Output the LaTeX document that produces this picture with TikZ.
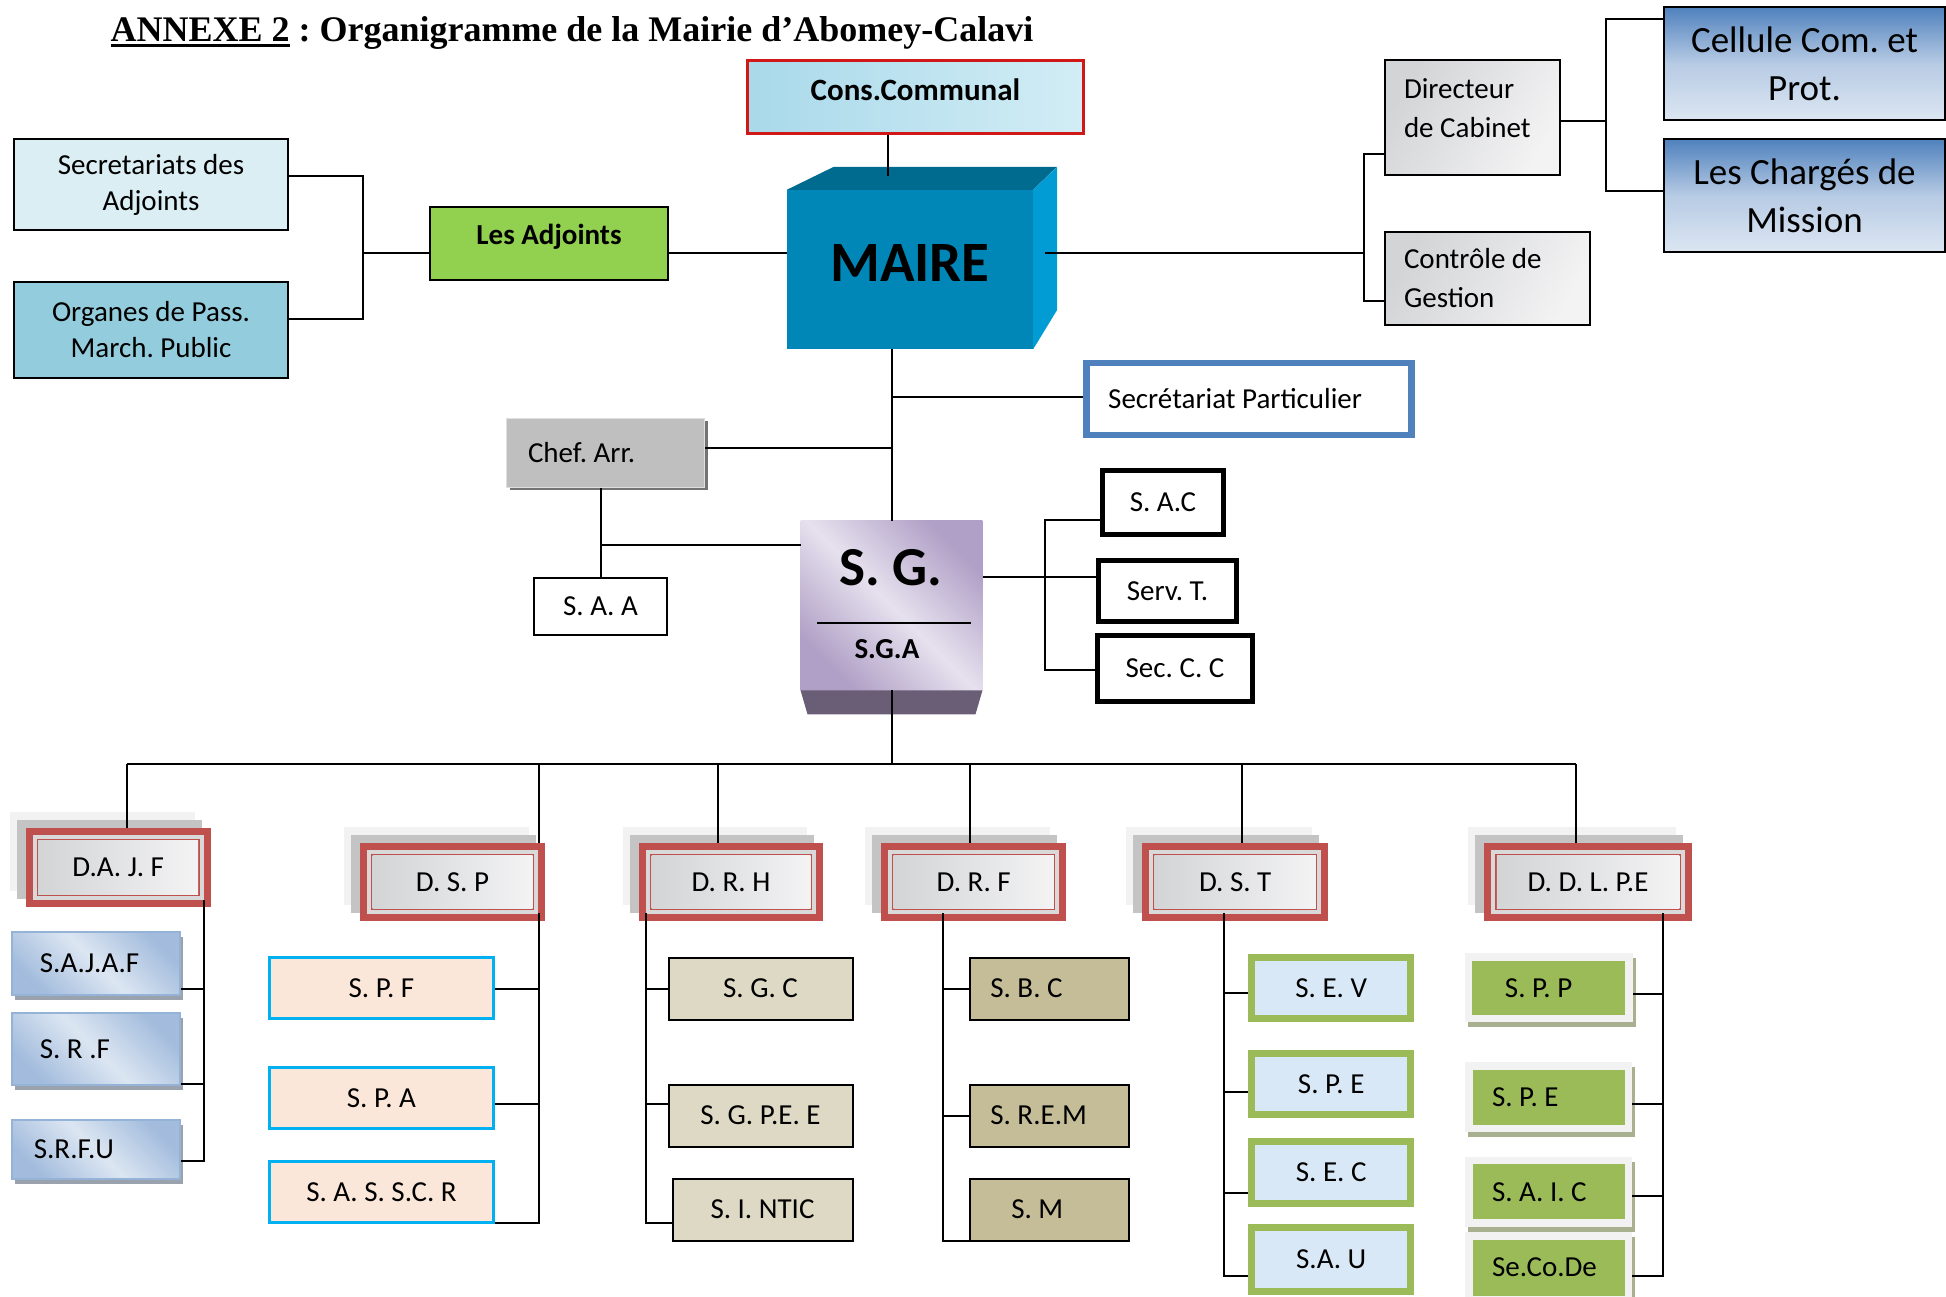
\documentclass[tikz,border=0pt]{standalone}
\usepackage{fontspec}
\setmainfont{Carlito}
\newfontfamily\titlefont{Liberation Serif}
\usepackage{tikz}
\usetikzlibrary{shadows}

\definecolor{consred}{HTML}{D01818}
\definecolor{aqualo}{HTML}{A9D9EA}
\definecolor{aquahi}{HTML}{D2EDF5}
\definecolor{maireface}{HTML}{0087B8}
\definecolor{mairetop}{HTML}{006A8F}
\definecolor{maireside}{HTML}{009CD3}
\definecolor{secblue}{HTML}{DBEEF4}
\definecolor{orgblue}{HTML}{93CDDD}
\definecolor{adjgreen}{HTML}{92D050}
\definecolor{marblelo}{HTML}{D3D4D6}
\definecolor{marblehi}{HTML}{F3F3F4}
\definecolor{celldark}{HTML}{4F81BD}
\definecolor{cellmid}{HTML}{B7CBE4}
\definecolor{celllight}{HTML}{DCE6F2}
\definecolor{partblue}{HTML}{4F81BD}
\definecolor{chefgray}{HTML}{BFBFBF}
\definecolor{sglight}{HTML}{E6E1EE}
\definecolor{sgdark}{HTML}{B09FC6}
\definecolor{sgfoot}{HTML}{695E76}
\definecolor{dirred}{HTML}{C0504D}
\definecolor{dirframe}{HTML}{D9D9D9}
\definecolor{shadlight}{HTML}{F2F2F2}
\definecolor{shadgray}{HTML}{C4C4C4}
\definecolor{svblue}{HTML}{A3BCDD}
\definecolor{svbluehi}{HTML}{DCE6F2}
\definecolor{svedge}{HTML}{95B3D7}
\definecolor{svshadow}{HTML}{9AA2AE}
\definecolor{peach}{HTML}{FBE7D9}
\definecolor{cyanedge}{HTML}{00B0F0}
\definecolor{khakilt}{HTML}{DDD9C4}
\definecolor{khaki}{HTML}{C4BD97}
\definecolor{olive}{HTML}{9BBB59}
\definecolor{icelt}{HTML}{D9E8F6}
\definecolor{greenshadow}{HTML}{A8B08F}

\newcommand{\ulbold}[1]{\setbox0=\hbox{#1}\rlap{\rule[-5pt]{\wd0}{2.5pt}}#1}
\newcommand{\insetrect}[2]{\path[#1] ([shift={(#2pt,-#2pt)}]path picture bounding box.north west) rectangle ([shift={(-#2pt,#2pt)}]path picture bounding box.south east);}

\tikzset{wh/.style 2 args={minimum width=#1pt,minimum height=#2pt},
         lft/.style 2 args={align=flush left,text width=#1pt,inner xsep=#2pt}}
\tikzstyle{box}=[rectangle,inner sep=0pt,font=\fontsize{29}{36}\selectfont]
\tikzstyle{conn}=[line width=2pt]
\tikzstyle{plainbox}=[box,draw=black,line width=2.5pt]
\tikzstyle{consbox}=[box,draw=consred,line width=3pt,left color=aqualo,right color=aquahi,font=\fontsize{31}{36}\selectfont\bfseries]
\tikzstyle{mairebox}=[box,fill=maireface,font=\fontsize{57}{60}\selectfont\bfseries]
\tikzstyle{adjbox}=[plainbox,fill=adjgreen,font=\fontsize{29}{36}\selectfont\bfseries]
\tikzstyle{marblebox}=[plainbox,left color=marblelo,right color=marblehi,shading angle=60,font=\fontsize{29}{39}\selectfont]
\tikzstyle{cellbox}=[plainbox,top color=celldark,bottom color=celllight,middle color=cellmid,align=center,font=\fontsize{37}{48}\selectfont]
\tikzstyle{partbox}=[box,draw=partblue,line width=6.5pt,fill=white]
\tikzstyle{chefbox}=[box,fill=chefgray,draw=gray!25,line width=1pt,drop shadow={shadow xshift=3pt,shadow yshift=-3pt,fill=gray!90!black,opacity=1}]
\tikzstyle{sgbox}=[box,top color=sgdark,bottom color=sgdark,middle color=sglight,shading angle=-45]
\tikzstyle{thickbox}=[box,draw=black,line width=5pt,fill=white]
\tikzstyle{dirbox}=[box,fill=dirred,
  general shadow={fill=shadlight,shadow xshift=-16pt,shadow yshift=16pt},
  general shadow={fill=shadgray,shadow xshift=-9pt,shadow yshift=8pt},
  path picture={\insetrect{fill=dirframe}{7}\insetrect{fill=dirred}{11}\insetrect{left color=marblelo,right color=marblehi}{12.5}}]
\tikzstyle{svbox}=[box,draw=svedge,line width=2pt,top color=svblue,bottom color=svblue,middle color=svbluehi,shading angle=-45,
  general shadow={fill=svshadow,shadow xshift=3pt,shadow yshift=-5pt}]
\tikzstyle{pfbox}=[box,draw=cyanedge,line width=2.5pt,fill=peach]
\tikzstyle{hrbox}=[box,draw=black,line width=2pt,fill=khakilt]
\tikzstyle{finbox}=[box,draw=black,line width=2pt,fill=khaki]
\tikzstyle{stbox}=[box,draw=olive,line width=7pt,fill=icelt]
\tikzstyle{dlbox}=[box,fill=shadlight,general shadow={fill=greenshadow,shadow xshift=3pt,shadow yshift=-5pt},
  path picture={\insetrect{fill=olive}{7.5}}]

\begin{document}
\frenchspacing
\begin{tikzpicture}[x=1pt,y=-1pt]
\useasboundingbox (0,0) rectangle (1946,1297);
\node at ( 107, 42) [anchor=base west,font=\titlefont\fontsize{36}{40}\selectfont\bfseries] (title) {\ulbold{ANNEXE 2} : Organigramme de la Mairie d’Abomey-Calavi};

\node at ( 915.5, 97) [consbox,wh={336}{73},text depth=14pt] (cons) {Cons.Communal};
\node at ( 910, 269.5) [mairebox,wh={246}{159},text depth=13pt] (maire) {MAIRE};
\fill[mairetop] (maire.north west) -- ++(47,-23) -- ++(223,0) -- (maire.north east) -- cycle;
\fill[maireside] (maire.north east) -- ++(24,-23) -- ++(0,143) -- (maire.south east) -- cycle;

\node at ( 151, 184.5) [plainbox,fill=secblue,wh={274}{91},align=center] (secadj) {Secretariats des\\Adjoints};
\node at ( 151, 330) [plainbox,fill=orgblue,wh={274}{96},align=center] (organes) {Organes de Pass.\\March. Public};
\node at ( 549, 243.5) [adjbox,wh={238}{73},text depth=18pt] (adjoints) {Les Adjoints};

\node at (1472.5, 117.5) [marblebox,wh={175}{115},lft={137}{19},text depth=57pt] (dircab) {Directeur\\de Cabinet};
\node at (1487.5, 278.5) [marblebox,wh={205}{93},lft={167}{19}] (controle) {Contrôle de\\Gestion};
\node at (1804.5, 63.5) [cellbox,wh={281}{113}] (cellule) {Cellule Com. et\\Prot.};
\node at (1804.5, 195.5) [cellbox,wh={281}{113}] (charges) {Les Chargés de\\Mission};

\node at (1249, 399) [partbox,wh={325}{72},lft={281.6}{21.7}] (secpart) {Secrétariat Particulier};
\node at ( 605.5, 452.5) [chefbox,wh={198}{69},lft={155}{21.5}] (chef) {Chef. Arr.};
\node at ( 600.5, 606.5) [plainbox,line width=2pt,wh={133}{57}] (saa) {S. A. A};

\node at ( 891.5, 605.4) [sgbox,wh={181.6}{169.3}] (sg) {};
\fill[sgfoot] (sg.south west) -- (sg.south east) -- ++(-7,24) -- ++(-168,0) -- cycle;
\node at ( 891, 568) [font=\fontsize{55}{60}\selectfont\bfseries] (sgname) {S. G.};
\draw[line width=2pt] (817,623) -- (971,623);
\node at ( 887, 649) [font=\fontsize{29}{34}\selectfont\bfseries] (sganame) {S.G.A};

\node at (1163, 502.5) [thickbox,wh={121}{64}] (sac) {S. A.C};
\node at (1167.5, 591) [thickbox,wh={138}{61}] (servt) {Serv. T.};
\node at (1175, 668.5) [thickbox,wh={155}{66}] (secc) {Sec. C. C};

\node at ( 118.2, 867.3) [dirbox,wh={185}{78.7}] (dajf) {D.A. J. F};
\node at ( 452.5, 882) [dirbox,wh={185}{78}] (dsp) {D. S. P};
\node at ( 731, 882) [dirbox,wh={184}{78}] (drh) {D. R. H};
\node at ( 973.7, 882) [dirbox,wh={185.5}{78}] (drf) {D. R. F};
\node at (1235.2, 882) [dirbox,wh={186.5}{78}] (dst) {D. S. T};
\node at (1588, 882) [dirbox,wh={207.5}{78}] (ddlpe) {D. D. L. P.E};

\node at ( 95.8, 963.3) [svbox,wh={168}{63},lft={112}{28}] (sajaf) {S.A.J.A.F};
\node at ( 95.8, 1049) [svbox,wh={168}{72},lft={112}{28}] (srf) {S. R .F};
\node at ( 95.8, 1149.5) [svbox,wh={168}{59},lft={124}{22}] (srfu) {S.R.F.U};

\node at ( 381.5, 988) [pfbox,wh={224}{61}] (spf) {S. P. F};
\node at ( 381.5, 1098) [pfbox,wh={224}{61}] (spa) {S. P. A};
\node at ( 381.5, 1192) [pfbox,wh={224}{61}] (sassc) {S. A. S. S.C. R};

\node at ( 760.5, 988.5) [hrbox,wh={184}{62}] (sgc) {S. G. C};
\node at ( 760.5, 1115.5) [hrbox,wh={184}{62}] (sgpee) {S. G. P.E. E};
\node at ( 762.5, 1209.5) [hrbox,wh={180}{62}] (sintic) {S. I. NTIC};

\node at (1049.8, 988.5) [finbox,wh={159}{62},lft={119}{20}] (sbc) {S. B. C};
\node at (1049.8, 1115.5) [finbox,wh={159}{62},lft={119}{20}] (srem) {S. R.E.M};
\node at (1049.8, 1209.5) [finbox,wh={159}{62},lft={77}{41}] (sm) {S. M};

\node at (1331.2, 988) [stbox,wh={158.5}{61}] (sev) {S. E. V};
\node at (1331.2, 1084) [stbox,wh={158.5}{61}] (spe) {S. P. E};
\node at (1331.2, 1172.5) [stbox,wh={158.5}{62}] (sec) {S. E. C};
\node at (1331.2, 1259.5) [stbox,wh={158.5}{64}] (sau) {S.A. U};

\node at (1548.8, 987.8) [dlbox,wh={167.7}{69},lft={87.7}{40}] (spp) {S. P. P};
\node at (1548.5, 1097.3) [dlbox,wh={167}{70},lft={113}{27}] (spe2) {S. P. E};
\node at (1548.5, 1191.7) [dlbox,wh={167}{70},lft={113}{27}] (saic) {S. A. I. C};
\node at (1548.5, 1267.5) [dlbox,wh={167}{71},lft={113}{27}] (secode) {Se.Co.De};

\coordinate (mtop) at ( 888, 176);
\coordinate (adjbr) at ( 363, 253);
\coordinate (mright) at (1045, 253);
\coordinate (cabbr) at (1364, 253);
\coordinate (celbr) at (1606, 121);
\coordinate (sgbr) at (1045, 577);
\draw[conn] (cons.south -| mtop) -- (mtop);
\draw[conn] (secadj.east |- 0,176) -| (adjbr) |- (organes.east |- 0,319);
\draw[conn] (adjbr) -- (adjoints.west |- adjbr);
\draw[conn] (adjoints.east |- adjbr) -- (maire.west |- adjbr);
\draw[conn] (mright) -- (cabbr);
\draw[conn] (dircab.west |- 0,154) -| (cabbr) |- (controle.west |- 0,301);
\draw[conn] (dircab.east |- celbr) -- (celbr);
\draw[conn] (cellule.west |- 0,19) -| (celbr) |- (charges.west |- 0,191);

\draw[conn] (maire.south -| sg.north) -- (sg.north);
\draw[conn] (sg.north |- 0,397) -- (secpart.west |- 0,397);
\draw[conn] (chef.east |- 0,448) -- (sg.north |- 0,448);
\draw[conn] (chef.south -| saa.north) -- (saa.north);
\draw[conn] (saa.north |- 0,545) -- (sg.west |- 0,545);
\draw[conn] (sg.east |- sgbr) -- (sgbr);
\draw[conn] (sac.west |- 0,520) -| (sgbr) |- (secc.west |- 0,670);
\draw[conn] (sgbr) -- (servt.west |- sgbr);

\coordinate (tdajf) at ( 127, 764);
\coordinate (tdsp) at ( 539, 764);
\coordinate (tdrh) at ( 718, 764);
\coordinate (tdrf) at ( 969.6, 764);
\coordinate (tdst) at (1241.5, 764);
\coordinate (tddlpe) at (1576, 764);
\draw[conn] (sg.south) -- (sg.south |- tdajf);
\draw[conn] (tdajf) -- (tddlpe);
\draw[conn] (tdajf) -- (tdajf |- dajf.north);
\draw[conn] (tdsp) -- (tdsp |- dsp.north);
\draw[conn] (tdrh) -- (tdrh |- drh.north);
\draw[conn] (tdrf) -- (tdrf |- drf.north);
\draw[conn] (tdst) -- (tdst |- dst.north);
\draw[conn] (tddlpe) -- (tddlpe |- ddlpe.north);

\coordinate (bdajf) at ( 204, 900);
\coordinate (bdsp) at ( 539, 913);
\coordinate (bdrh) at ( 645.5, 913);
\coordinate (bdrf) at ( 943, 913);
\coordinate (bdst) at (1224, 913);
\coordinate (bddlpe) at (1663, 913);
\draw[conn] (bdajf) |- (sajaf.east |- 0,989);
\draw[conn] (bdajf) |- (srf.east |- 0,1084);
\draw[conn] (bdajf) |- (srfu.east |- 0,1161);
\draw[conn] (bdsp) |- (spf.east |- 0,989);
\draw[conn] (bdsp) |- (spa.east |- 0,1104);
\draw[conn] (bdsp) |- (sassc.east |- 0,1223);
\draw[conn] (bdrh) |- (sgc.west |- 0,989);
\draw[conn] (bdrh) |- (sgpee.west |- 0,1104);
\draw[conn] (bdrh) |- (sintic.west |- 0,1223);
\draw[conn] (bdrf) |- (sbc.west |- 0,989);
\draw[conn] (bdrf) |- (srem.west |- 0,1116);
\draw[conn] (bdrf) |- (sm.west |- 0,1241);
\draw[conn] (bdst) |- (sev.west |- 0,993);
\draw[conn] (bdst) |- (spe.west |- 0,1092);
\draw[conn] (bdst) |- (sec.west |- 0,1193);
\draw[conn] (bdst) |- (sau.west |- 0,1276);
\draw[conn] (bddlpe) |- (spp.east |- 0,994);
\draw[conn] (bddlpe) |- (spe2.east |- 0,1104);
\draw[conn] (bddlpe) |- (saic.east |- 0,1196);
\draw[conn] (bddlpe) |- (secode.east |- 0,1276);
\end{tikzpicture}
\end{document}
